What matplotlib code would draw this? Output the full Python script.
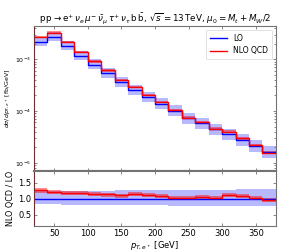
import numpy as np
import matplotlib
matplotlib.use("Agg")
import matplotlib.pyplot as plt

# bin edges (GeV)
edges = [20, 40, 60, 80, 100, 120, 140, 160, 180, 200, 220, 240, 260, 280, 300, 320, 340, 360, 380]
# LO central [fb/GeV]
lo = [2.13e-3, 2.67e-3, 1.81e-3, 1.16e-3, 7.87e-4, 5.36e-4, 3.59e-4, 2.55e-4, 1.84e-4,
      1.37e-4, 1.00e-4, 7.2e-5, 5.78e-5, 4.43e-5, 3.54e-5, 2.75e-5, 2.10e-5, 1.63e-5]
# NLO QCD / LO
ratio = [1.27, 1.23, 1.20, 1.19, 1.16, 1.14, 1.11, 1.16, 1.12, 1.09, 1.03, 1.03, 1.06, 1.03,
         1.13, 1.09, 1.03, 0.96]
# scale-variation bands (relative to own central value)
lo_up = [1.24, 1.24, 1.25, 1.25, 1.26, 1.26, 1.27, 1.27, 1.27, 1.28, 1.28, 1.28, 1.29, 1.29,
         1.29, 1.30, 1.30, 1.30]
lo_dn = [0.83, 0.83, 0.82, 0.82, 0.82, 0.81, 0.81, 0.80, 0.80, 0.80, 0.79, 0.79, 0.79, 0.78,
         0.78, 0.78, 0.77, 0.77]
nlo_up = [1.05, 1.05, 1.05, 1.05, 1.05, 1.05, 1.05, 1.05, 1.05, 1.05, 1.06, 1.06, 1.06, 1.06,
          1.06, 1.06, 1.06, 1.06]
nlo_dn = [0.94, 0.94, 0.94, 0.94, 0.94, 0.94, 0.94, 0.94, 0.94, 0.94, 0.93, 0.93, 0.93, 0.93,
          0.93, 0.93, 0.93, 0.93]

edges_a = np.array(edges, float)
lo_a = np.array(lo)
nlo_a = lo_a * np.array(ratio)

def stepv(v):
    v = np.asarray(v, float)
    return np.append(v, v[-1])

blue = "#0000ff"
red = "#ff0000"
spc = "0.45"
lw = 1.0

fig = plt.figure(figsize=(2.88, 2.52), dpi=100)
ax = fig.add_axes([0.118, 0.321, 0.840, 0.576])
axr = fig.add_axes([0.118, 0.103, 0.840, 0.218], sharex=ax)

# main panel
ax.fill_between(edges_a, stepv(lo_a * np.array(lo_dn)), stepv(lo_a * np.array(lo_up)),
                step="post", color=blue, alpha=0.28, lw=0)
ax.fill_between(edges_a, stepv(nlo_a * np.array(nlo_dn)), stepv(nlo_a * np.array(nlo_up)),
                step="post", color=red, alpha=0.45, lw=0)
ax.step(edges_a, stepv(lo_a), where="post", color=blue, lw=lw, label="LO")
ax.step(edges_a, stepv(nlo_a), where="post", color=red, lw=lw, label="NLO QCD")
ax.set_yscale("log")
ax.set_ylim(6.9e-6, 4.4e-3)
ax.set_xlim(20, 380)
ax.set_ylabel(r"$d\sigma/dp_{T,e^+}$ [fb/GeV]", fontsize=4.5, labelpad=2)
ax.tick_params(axis="x", labelbottom=False)
ax.set_title(r"$\mathrm{p\,p}\to\mathrm{e}^{+}\,\nu_e\,\mu^{-}\,\bar{\nu}_{\mu}\,\tau^{+}\,\nu_{\tau}\,\mathrm{b}\,\bar{\mathrm{b}}$, $\sqrt{s}=13\,$TeV, $\mu_0=M_t+M_W/2$",
             fontsize=6.3, pad=3)
leg = ax.legend(loc="upper right", fontsize=5.5, frameon=True, handlelength=2.3,
                borderpad=0.5, labelspacing=0.5)
leg.get_frame().set_linewidth(0.5)

# ratio panel
one = np.ones(len(lo))
axr.fill_between(edges_a, stepv(lo_dn), stepv(lo_up), step="post", color=blue, alpha=0.28, lw=0)
axr.fill_between(edges_a, stepv(np.array(ratio) * np.array(nlo_dn)),
                 stepv(np.array(ratio) * np.array(nlo_up)), step="post", color=red, alpha=0.45, lw=0)
axr.step(edges_a, stepv(one), where="post", color=blue, lw=lw)
axr.step(edges_a, stepv(ratio), where="post", color=red, lw=lw)
axr.set_ylim(0.15, 1.87)
axr.set_yticks([0.5, 1.0, 1.5])
axr.set_xticks([50, 100, 150, 200, 250, 300, 350])
axr.set_xlabel(r"$p_{T,e^+}$ [GeV]", fontsize=6, labelpad=1)
axr.set_ylabel("NLO QCD / LO", fontsize=5.8, labelpad=2)

for a in (ax, axr):
    a.tick_params(which="both", direction="in", top=True, right=True, labelsize=6,
                  color=spc, width=0.6, length=2.5, pad=2)
    a.tick_params(which="minor", length=1.5)
    for s in a.spines.values():
        s.set_color(spc)
        s.set_linewidth(0.8)
    a.spines["left"].set_color("#6e3030")
ax.tick_params(axis="y", which="both", labelsize=4.5)
ax.spines["bottom"].set_linewidth(1.5)
axr.spines["top"].set_linewidth(1.5)

fig.savefig("out.png", dpi=100)
